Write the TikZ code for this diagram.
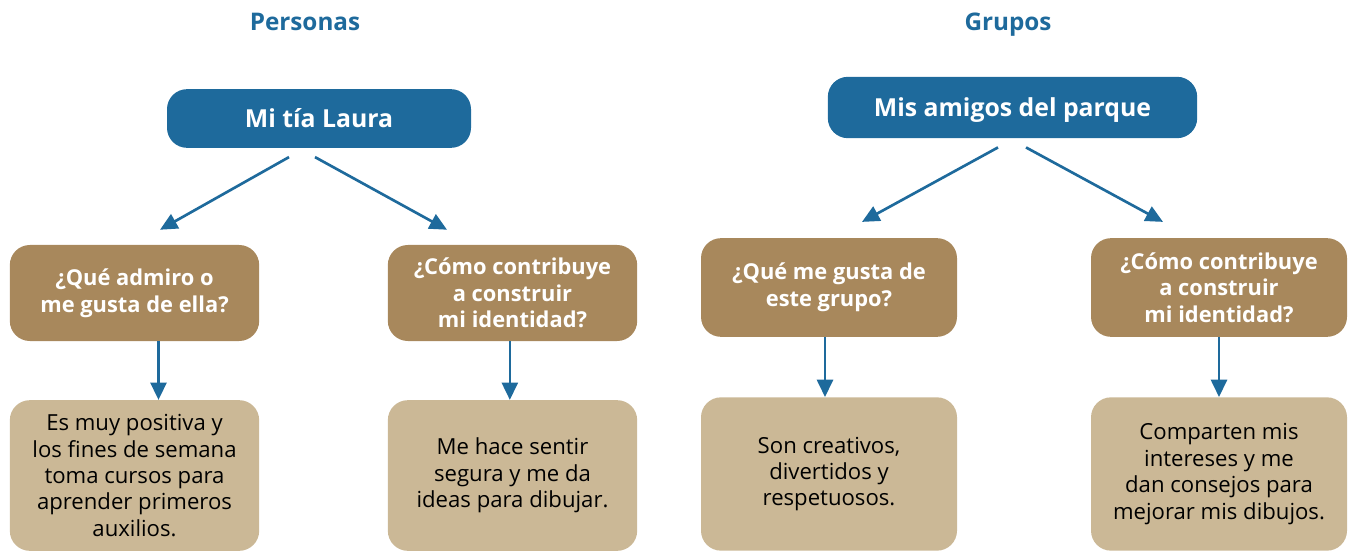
\documentclass[tikz,border=0pt]{standalone}
\usepackage{fontspec}
\setmainfont{Open Sans}
\usetikzlibrary{arrows.meta,calc}
\definecolor{azul}{HTML}{1E6A9C}
\definecolor{cafe}{HTML}{A8885C}
\definecolor{arena}{HTML}{CBB896}
\begin{document}
\begin{tikzpicture}[x=0.75pt,y=-0.75pt,
    titulo/.style={text=azul,font=\fontsize{18.2}{21}\selectfont\bfseries},
    tema/.style={fill=azul,text=white,rounded corners=15pt,inner sep=0pt,
      font=\fontsize{18.6}{22}\selectfont\bfseries},
    pregunta/.style={fill=cafe,text=white,rounded corners=15pt,inner sep=0pt,align=center,
      minimum width=187pt,font=\fontsize{16.4}{20}\selectfont\bfseries},
    respuesta/.style={fill=arena,text=black,rounded corners=15pt,inner sep=0pt,align=center,
      minimum width=187pt,font=\fontsize{16.6}{19.8}\selectfont},
    flecha/.style={draw=azul,line width=2pt,-{Triangle[length=13pt,width=12pt]}}]
          \useasboundingbox (0,0) rectangle (1348,552);

          % titulos
          \node[titulo] (personas) at (305,22) {Personas};
          \node[titulo] (grupos) at (1008,25) {Grupos};

          % nivel 1
          \node[tema,minimum width=228pt,minimum height=44pt] (laura) at (319,118.5) {Mi tía Laura};
          \node[tema,minimum width=277pt,minimum height=46pt,text depth=1pt] (amigos) at (1012.5,107.5) {Mis amigos del parque};

          % preguntas
          \node[pregunta,minimum height=72pt] (admiro) at (134.5,293) {¿Qué admiro o\\me gusta de ella?};
          \node[pregunta,minimum height=72pt] (identLaura) at (512.5,293) {¿Cómo contribuye\\a construir\\mi identidad?};
          \node[pregunta,minimum width=192pt,minimum height=74pt] (gusta) at (829,287.5) {¿Qué me gusta de\\este grupo?};
          \node[pregunta,minimum width=192pt,minimum height=74pt] (identGrupo) at (1219,287.5) {¿Cómo contribuye\\a construir\\mi identidad?};

          % respuestas
          \node[respuesta,minimum height=113pt] (positiva) at (134.5,475.5) {Es muy positiva y\\los fines de semana\\toma cursos para\\aprender primeros\\auxilios.};
          \node[respuesta,minimum height=113pt] (segura) at (512.5,475.5) {Me hace sentir\\segura y me da\\ideas para dibujar.};
          \node[respuesta,minimum width=192pt,minimum height=115pt] (creativos) at (829,474) {Son creativos,\\divertidos y\\respetuosos.};
          \node[respuesta,minimum width=192pt,minimum height=115pt] (intereses) at (1219,474) {Comparten mis\\intereses y me\\dan consejos para\\mejorar mis dibujos.};

          % flechas
          \draw[flecha] ($(laura.south)+(-30,9)$) -- ($(admiro.north)+(25.5,-15)$);
          \draw[flecha] ($(laura.south)+(-4,9)$) -- ($(identLaura.north)+(-65.5,-15)$);
          \draw[flecha] ($(amigos.south)+(-14.5,9)$) -- ($(gusta.north)+(33,-16)$);
          \draw[flecha] ($(amigos.south)+(13.5,9)$) -- ($(identGrupo.north)+(-56,-16)$);

          \draw[flecha] ([xshift=18pt]admiro.south) -- ([xshift=18pt]positiva.north);
          \draw[flecha] ([xshift=-2pt]identLaura.south) -- ([xshift=-2pt]segura.north);
          \draw[flecha] ([xshift=-3pt]gusta.south) -- ([xshift=-3pt]creativos.north);
          \draw[flecha] (identGrupo.south) -- (intereses.north);
        \end{tikzpicture}
\end{document}
